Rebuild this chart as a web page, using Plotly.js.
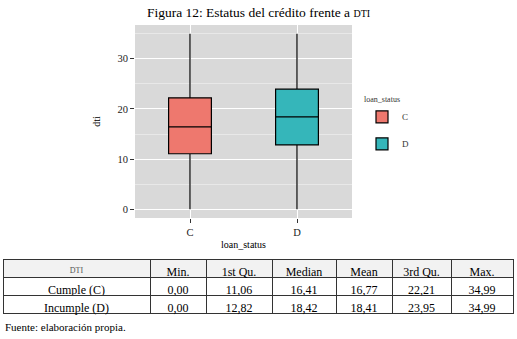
<!DOCTYPE html>
<html>
<head>
<meta charset="utf-8">
<script src="https://cdn.plot.ly/plotly-3.0.1.min.js"></script>
<style>
html,body{margin:0;padding:0;background:#fff;}
#chart text{font-family:"Liberation Serif","Times New Roman",serif !important;}
</style>
</head>
<body>
<div id="chart" style="width:517px;height:339px;"></div>
<script>
// Data
const categories = ['C', 'D'];
const rowLabels = ['Cumple (C)', 'Incumple (D)'];
const minVals = [0.00, 0.00];
const q1Vals = [11.06, 12.82];
const medianVals = [16.41, 18.42];
const meanVals = [16.77, 18.41];
const q3Vals = [22.21, 23.95];
const maxVals = [34.99, 34.99];
const tableHeaders = ['DTI', 'Min.', '1st Qu.', 'Median', 'Mean', '3rd Qu.', 'Max.'];
const boxColors = ['#EE786E', '#35B6BA'];

const SERIF = 'Liberation Serif';
const W = 517, H = 339, ML = 3, MR = 4;
const PW = W - ML - MR;
const px = x => (x - ML) / PW;
const py = y => 1 - y / H;

const fmt = v => v.toFixed(2).replace('.', ',');

const traces = categories.map((c, i) => ({
  type: 'box',
  name: c,
  legendgroup: c,
  x: [c],
  q1: [q1Vals[i]],
  median: [medianVals[i]],
  q3: [q3Vals[i]],
  lowerfence: [minVals[i]],
  upperfence: [maxVals[i]],
  width: 0.4,
  whiskerwidth: 0,
  fillcolor: boxColors[i],
  line: {color: '#000', width: 1.2},
  boxpoints: false,
  hoverinfo: 'skip',
  xaxis: 'x', yaxis: 'y'
}));

const cellCols = [rowLabels,
  minVals.map(fmt), q1Vals.map(fmt), medianVals.map(fmt),
  meanVals.map(fmt), q3Vals.map(fmt), maxVals.map(fmt)];

traces.push({
  type: 'table',
  domain: {x: [0, 1], y: [py(316), py(259)]},
  columnwidth: [147, 56, 66, 64, 56, 59, 62],
  header: {
    values: tableHeaders,
    height: 18,
    align: 'center',
    fill: {color: '#f2f2f2'},
    line: {color: '#333', width: 1},
    font: {family: SERIF, size: [8, 12, 12, 12, 12, 12, 12], color: ['#555', '#000', '#000', '#000', '#000', '#000', '#000']}
  },
  cells: {
    values: cellCols,
    height: 18,
    align: 'center',
    fill: {color: '#fff'},
    line: {color: '#333', width: 1},
    font: {family: SERIF, size: 12, color: '#000'}
  }
});

const layout = {
  width: W, height: H,
  margin: {l: ML, r: MR, t: 0, b: 0},
  paper_bgcolor: '#fff',
  plot_bgcolor: '#d9d9d9',
  font: {family: SERIF, color: '#000'},
  showlegend: true,
  title: {
    text: 'Figura 12: Estatus del crédito frente a <span style="font-size:10px">DTI</span>',
    font: {family: SERIF, size: 13.5, color: '#000'},
    x: 0.5, xref: 'container', xanchor: 'center',
    y: 1 - 12 / H, yref: 'container', yanchor: 'middle'
  },
  boxmode: 'overlay',
  xaxis: {
    domain: [px(135), px(352)],
    type: 'category',
    categoryarray: categories,
    range: [-0.514, 1.514],
    showgrid: true, gridcolor: '#fff', gridwidth: 1,
    zeroline: false, showline: false,
    ticks: 'outside', ticklen: 4, tickcolor: '#333', tickwidth: 1,
    tickfont: {family: SERIF, size: 10.5, color: '#222'},
    title: {text: 'loan_status', font: {family: SERIF, size: 10, color: '#000'}, standoff: 4},
    fixedrange: true
  },
  yaxis: {
    domain: [py(218), py(25)],
    range: [-1.75, 36.74],
    tickvals: [0, 10, 20, 30],
    ticktext: ['0', '10', '20', '30'],
    showgrid: true, gridcolor: '#fff', gridwidth: 1,
    minor: {tickvals: [5, 15, 25, 35], showgrid: true, gridcolor: '#f2f2f2', gridwidth: 0.6, ticks: ''},
    zeroline: false, showline: false,
    ticks: 'outside', ticklen: 4, tickcolor: '#333', tickwidth: 1,
    tickfont: {family: SERIF, size: 10.5, color: '#222'},
    title: {text: 'dti', font: {family: SERIF, size: 10, color: '#000'}, standoff: 14},
    fixedrange: true
  },
  legend: {
    x: px(362), xanchor: 'left',
    y: py(92), yanchor: 'top',
    bgcolor: 'rgba(0,0,0,0)',
    title: {text: 'loan_status', font: {family: SERIF, size: 8, color: '#333'}},
    font: {family: SERIF, size: 9, color: '#333'},
    tracegroupgap: 8,
    itemwidth: 30
  },
  annotations: [{
    text: 'Fuente: elaboración propia.',
    xref: 'paper', yref: 'paper',
    x: 0, y: py(327), xanchor: 'left', yanchor: 'middle',
    showarrow: false,
    font: {family: SERIF, size: 11, color: '#000'}
  }]
};

Plotly.newPlot('chart', traces, layout, {displayModeBar: false, staticPlot: true});
</script>
</body>
</html>
